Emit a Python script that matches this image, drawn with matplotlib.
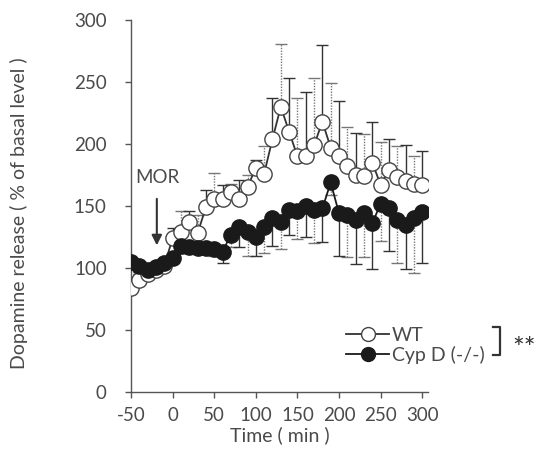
import matplotlib
matplotlib.use("Agg")
import matplotlib.pyplot as plt
from matplotlib.lines import Line2D

time = list(range(-50, 301, 10))
wt = [84, 90, 95, 98, 102, 124, 129, 137, 128, 149, 156, 156, 161, 156, 165, 181,
      176, 204, 230, 210, 190, 190, 199, 218, 197, 190, 182, 175, 174, 185, 167, 179,
      173, 170, 168, 167]
wt_err = [6, 5, 4, 4, 5, 8, 17, 9, 15, 14, 21, 11, 7, 15, 10, 6,
          22, 33, 51, 43, 47, 52, 54, 62, 52, 45, 32, 34, 34, 33, 35, 25,
          25, 29, 22, 27]
cyp = [105, 102, 98, 101, 104, 108, 118, 117, 116, 116, 115, 113, 127, 133, 129, 125,
       133, 140, 137, 147, 146, 150, 147, 148, 169, 144, 143, 139, 144, 136, 152, 148,
       139, 135, 140, 145]
cyp_err = [5, 5, 4, 4, 4, 4, 6, 5, 5, 5, 5, 9, 10, 16, 19, 15,
           21, 22, 22, 20, 23, 25, 27, 27, 10, 34, 34, 36, 35, 37, 30, 34,
           35, 36, 44, 41]
x_ticks = [-50, 0, 50, 100, 150, 200, 250, 300]
y_ticks = [0, 50, 100, 150, 200, 250, 300]

plt.rcParams['font.family'] = ['Lato', 'DejaVu Sans']
plt.rcParams['axes.unicode_minus'] = False
txt = '#4a4a4a'
axc = '#555555'

fig = plt.figure(figsize=(5.43, 4.62), dpi=100)
ax = fig.add_axes([0.2413, 0.1515, 0.547, 0.8052])

def bars(x, y, err, upper, color):
    for k in range(2):
        xs = x[k::2]; ys = y[k::2]; es = err[k::2]
        if upper:
            yerr = [[0]*len(es), es]
        else:
            yerr = [es, [0]*len(es)]
        eb = ax.errorbar(xs, ys, yerr=yerr, fmt='none', ecolor=color if k else '#777777',
                         elinewidth=1.0, capsize=4, capthick=1.0, zorder=1)
        if k == 0:
            eb[2][0].set_linestyle((0, (1, 1)))

bars(time, wt, wt_err, True, '#333333')
ax.plot(time, wt, '-o', color='#333333', lw=1.3, ms=11, mfc='white', mec='#444444',
        mew=1.0, zorder=3)
bars(time, cyp, cyp_err, False, '#333333')
ax.plot(time, cyp, '-o', color='#1a1a1a', lw=1.3, ms=11, mfc='#1a1a1a', mec='#1a1a1a',
        zorder=4)

ax.set_xlim(-50, 307)
ax.set_ylim(0, 300)
ax.set_xticks(x_ticks)
ax.set_yticks(y_ticks)
ax.tick_params(axis='both', direction='out', length=4.5, width=1, color=axc,
               labelsize=13.5, labelcolor=txt)
ax.tick_params(axis='y', pad=13)
ax.tick_params(axis='x', pad=6)
for s in ['top', 'right']:
    ax.spines[s].set_visible(False)
for s in ['left', 'bottom']:
    ax.spines[s].set_color(axc)
    ax.spines[s].set_linewidth(1.0)

ax.set_xlabel('Time ( min )', fontsize=14, color=txt, labelpad=2)
ax.set_ylabel('Dopamine release ( % of basal level )', fontsize=14, color=txt)
ax.yaxis.set_label_coords(-0.347, 0.48)

ax.annotate('', xy=(-19, 116), xytext=(-19, 158),
            arrowprops=dict(arrowstyle='-|>', color='#333333', lw=1.5, mutation_scale=15))
ax.text(-18, 173, 'MOR', ha='center', va='center', fontsize=13.5, color=txt)

handles = [Line2D([], [], color='#333333', marker='o', ms=10, mfc='white', mec='#444444', lw=1.3),
           Line2D([], [], color='#1a1a1a', marker='o', ms=10, mfc='#1a1a1a', lw=1.3)]
leg = ax.legend(handles, ['WT', 'Cyp D (-/-)'], loc='lower left', bbox_to_anchor=(0.725, 0.075),
                frameon=False, fontsize=14, handlelength=2.2, handletextpad=0.15,
                labelspacing=0.1, borderaxespad=0, borderpad=0)
for t in leg.get_texts():
    t.set_color(txt)

H = 462.0; W = 543.0
bx = [493 / W, 500 / W, 500 / W, 493 / W]
by = [1 - 327 / H, 1 - 327 / H, 1 - 355 / H, 1 - 355 / H]
fig.add_artist(Line2D(bx, by, color='#333333', lw=1.6, transform=fig.transFigure))
fig.text(512 / W, 1 - 350 / H, '**', fontsize=20, color='#333333', ha='left', va='center')

fig.savefig('out.png', dpi=100)
